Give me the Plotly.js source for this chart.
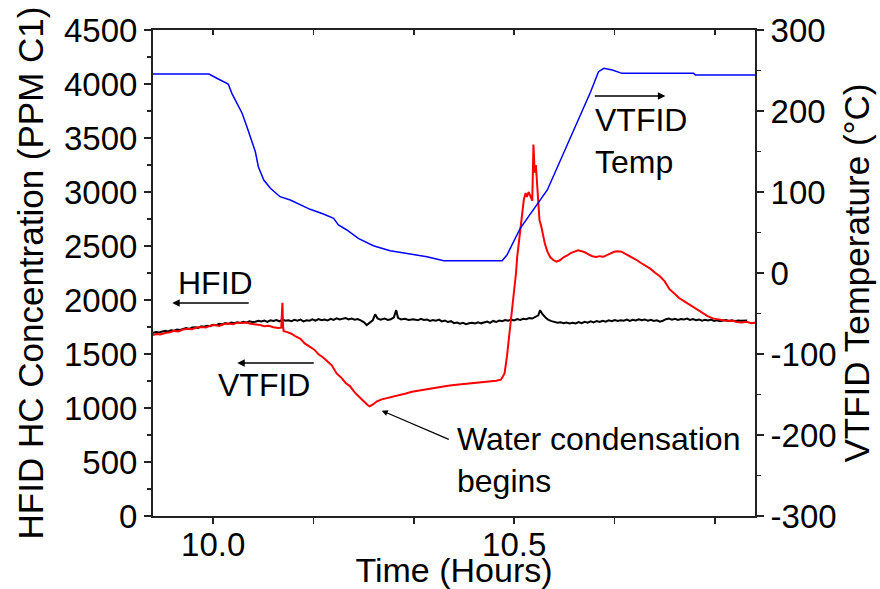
<!DOCTYPE html>
<html>
<head>
<meta charset="utf-8">
<script src="https://cdn.plot.ly/plotly-3.0.1.min.js"></script>
<style>html,body{margin:0;padding:0;background:#fff;}#chart{width:880px;height:589px;}</style>
</head>
<body>
<div id="chart"></div>
<script>
// ---- Data (time in hours) ----
const hfidTime = [9.900,9.905,9.910,9.915,9.920,9.925,9.930,9.935,9.940,9.945,9.950,9.955,9.960,9.965,9.970,9.975,9.980,9.985,9.990,9.995,10.000,10.005,10.010,10.015,10.020,10.025,10.030,10.035,10.040,10.045,10.050,10.055,10.060,10.065,10.070,10.075,10.080,10.085,10.090,10.095,10.100,10.105,10.110,10.115,10.120,10.125,10.130,10.135,10.140,10.145,10.150,10.155,10.160,10.165,10.170,10.175,10.180,10.185,10.190,10.195,10.200,10.205,10.210,10.215,10.220,10.225,10.230,10.235,10.240,10.245,10.250,10.255,10.260,10.265,10.269,10.273,10.278,10.285,10.290,10.295,10.300,10.304,10.307,10.312,10.318,10.325,10.332,10.340,10.345,10.350,10.355,10.360,10.365,10.370,10.375,10.380,10.385,10.390,10.395,10.400,10.405,10.410,10.415,10.420,10.425,10.430,10.435,10.440,10.445,10.450,10.455,10.460,10.465,10.470,10.475,10.480,10.485,10.490,10.495,10.500,10.505,10.510,10.515,10.520,10.525,10.530,10.535,10.540,10.543,10.547,10.552,10.557,10.562,10.567,10.572,10.577,10.582,10.587,10.592,10.597,10.602,10.607,10.612,10.617,10.622,10.627,10.632,10.637,10.642,10.647,10.652,10.657,10.662,10.667,10.672,10.677,10.682,10.687,10.692,10.697,10.702,10.707,10.712,10.717,10.722,10.727,10.732,10.737,10.742,10.747,10.752,10.757,10.762,10.767,10.772,10.777,10.782,10.787,10.792,10.797,10.802,10.807,10.812,10.817,10.822,10.827,10.832,10.837,10.842,10.847,10.852,10.857,10.862,10.867,10.872,10.877,10.882,10.887,10.892,10.897,10.900];
const hfidConc = [1697,1703,1700,1710,1714,1709,1720,1716,1727,1722,1733,1741,1731,1745,1748,1741,1756,1752,1762,1757,1771,1766,1779,1773,1786,1778,1791,1785,1794,1788,1798,1791,1803,1796,1799,1807,1801,1810,1798,1812,1806,1815,1803,1818,1808,1812,1804,1816,1809,1818,1802,1813,1809,1821,1808,1824,1813,1819,1810,1826,1816,1830,1819,1825,1833,1821,1828,1818,1824,1812,1796,1768,1790,1812,1868,1830,1818,1828,1815,1822,1838,1906,1835,1820,1826,1816,1822,1812,1826,1815,1820,1806,1814,1808,1818,1802,1810,1796,1804,1786,1792,1780,1788,1776,1785,1790,1782,1794,1784,1792,1800,1788,1806,1796,1810,1803,1815,1808,1818,1811,1823,1816,1826,1822,1832,1828,1842,1858,1906,1868,1838,1815,1804,1796,1789,1794,1786,1791,1782,1789,1783,1795,1786,1798,1790,1802,1793,1806,1797,1808,1800,1812,1803,1815,1805,1813,1808,1818,1806,1816,1811,1822,1812,1820,1809,1817,1806,1812,1800,1808,1822,1828,1818,1826,1815,1824,1819,1828,1816,1823,1812,1820,1808,1816,1810,1818,1806,1812,1803,1810,1814,1806,1812,1803,1810,1808,1813,1811];

const vtfidTime = [9.900,9.905,9.912,9.920,9.928,9.935,9.942,9.950,9.958,9.965,9.972,9.980,9.988,9.995,10.003,10.010,10.018,10.025,10.033,10.040,10.048,10.055,10.062,10.070,10.078,10.085,10.092,10.100,10.108,10.113,10.115,10.116,10.117,10.122,10.130,10.137,10.145,10.152,10.160,10.168,10.175,10.182,10.190,10.197,10.205,10.212,10.220,10.227,10.235,10.242,10.250,10.257,10.260,10.266,10.272,10.280,10.290,10.300,10.310,10.320,10.330,10.340,10.350,10.360,10.370,10.380,10.390,10.400,10.410,10.420,10.430,10.440,10.450,10.460,10.470,10.478,10.484,10.488,10.492,10.496,10.500,10.503,10.505,10.508,10.511,10.513,10.516,10.519,10.521,10.524,10.527,10.530,10.532,10.534,10.536,10.538,10.540,10.542,10.545,10.548,10.551,10.555,10.560,10.565,10.570,10.576,10.582,10.588,10.594,10.600,10.606,10.612,10.618,10.624,10.630,10.636,10.642,10.648,10.654,10.660,10.666,10.672,10.678,10.684,10.690,10.696,10.702,10.710,10.718,10.726,10.734,10.742,10.750,10.758,10.766,10.774,10.782,10.790,10.798,10.806,10.814,10.822,10.830,10.838,10.846,10.854,10.862,10.870,10.878,10.886,10.894,10.900];
const vtfidConc = [1676,1684,1680,1695,1702,1714,1709,1726,1733,1729,1745,1750,1746,1762,1768,1760,1778,1782,1775,1790,1786,1792,1780,1776,1768,1758,1762,1748,1740,1744,1975,1760,1712,1705,1688,1662,1640,1598,1570,1540,1497,1470,1430,1395,1320,1285,1232,1203,1145,1110,1062,1025,1015,1035,1062,1080,1092,1108,1118,1134,1150,1160,1168,1184,1190,1198,1207,1214,1219,1224,1228,1236,1240,1248,1252,1262,1320,1480,1680,1880,2100,2250,2400,2560,2680,2810,2930,2990,2955,3000,2960,2920,3440,3180,3250,3080,2850,2740,2680,2590,2520,2450,2395,2370,2355,2368,2395,2412,2435,2448,2460,2452,2440,2420,2405,2398,2406,2400,2415,2430,2447,2452,2448,2430,2412,2395,2375,2345,2318,2290,2252,2220,2172,2100,2060,2018,1990,1962,1930,1900,1872,1848,1830,1822,1815,1806,1810,1796,1792,1798,1786,1790];

const tempTime = [9.900,9.993,10.006,10.025,10.031,10.039,10.048,10.056,10.064,10.070,10.075,10.084,10.095,10.111,10.128,10.145,10.161,10.183,10.200,10.208,10.222,10.241,10.266,10.294,10.322,10.355,10.383,10.480,10.488,10.499,10.510,10.555,10.599,10.627,10.640,10.649,10.663,10.679,10.798,10.801,10.900];
const tempC = [245.7,245.7,240.4,233.3,221.8,209.5,197.2,180.6,164.2,149.7,131.2,114.8,104.6,94.2,90.1,84.0,78.6,72.8,67.5,59.3,53.1,42.8,33.7,27.5,24.3,20.1,15.2,15.2,22.2,38.6,55.2,102.5,176.5,223.8,248.5,252.7,250.6,246.5,246.5,244.4,244.4];

const xMajorTicks = [10.0, 10.5];
const xMajorLabels = ['10.0', '10.5'];
const xMinorTicks = [9.8333333, 10.1666667, 10.3333333, 10.6666667, 10.8333333];
const xTopTicks = [10.0, 10.1666667, 10.3333333, 10.5, 10.6666667, 10.8333333];
const tempTickVals = [-300, -200, -100, 0, 100, 200, 300];
const tempTickLabels = ['-300', '-200', '-100', '0', '100', '200', '300'];

const FONT = 'Liberation Sans, Arial, sans-serif';
const AX = '#222';
const TICK_SIZE = 33;
const TITLE_SIZE = 35;
const NOTE_SIZE = 32;

const traces = [
  {x: hfidTime, y: hfidConc, type: 'scatter', mode: 'lines', name: 'HFID',
   line: {color: '#000000', width: 2}, xaxis: 'x', yaxis: 'y'},
  {x: vtfidTime, y: vtfidConc, type: 'scatter', mode: 'lines', name: 'VTFID',
   line: {color: '#ff0000', width: 2}, xaxis: 'x', yaxis: 'y'},
  {x: tempTime, y: tempC, type: 'scatter', mode: 'lines', name: 'VTFID Temp',
   line: {color: '#0000ff', width: 1.5}, xaxis: 'x2', yaxis: 'y2'}
];

const arrowStyle = {showarrow: true, arrowhead: 2, arrowsize: 1, arrowwidth: 1.5, arrowcolor: '#000',
  axref: 'x', ayref: 'y', xref: 'x', yref: 'y', text: '', standoff: 0, startstandoff: 0};

const noteFont = {size: NOTE_SIZE, family: FONT, color: '#000'};

const layout = {
  width: 880, height: 589,
  margin: {l: 153, r: 125, t: 30, b: 73},
  paper_bgcolor: '#fff', plot_bgcolor: '#fff',
  showlegend: false,
  font: {family: FONT, size: TICK_SIZE, color: '#000'},
  xaxis: {
    range: [9.9, 10.9], tickmode: 'array', tickvals: xMajorTicks, ticktext: xMajorLabels,
    ticks: 'outside', ticklen: 6, tickwidth: 1.5, tickcolor: AX, ticklabelstandoff: -8,
    showline: true, linecolor: AX, linewidth: 2, showgrid: false, zeroline: false,
    tickfont: {size: TICK_SIZE, family: FONT, color: '#000'},
    minor: {tickvals: xMinorTicks, ticks: 'outside', ticklen: 6, tickwidth: 1.5, tickcolor: AX, showgrid: false},
    title: {text: 'Time (Hours)', font: {size: 34, family: FONT, color: '#000'}, standoff: 9},
    automargin: false
  },
  xaxis2: {
    range: [9.9, 10.9], overlaying: 'x', side: 'top', anchor: 'y2',
    tickmode: 'array', tickvals: xTopTicks, ticks: 'inside', ticklen: 5, tickwidth: 1.5, tickcolor: AX,
    showticklabels: false, showline: true, linecolor: AX, linewidth: 2, showgrid: false, zeroline: false,
    automargin: false
  },
  yaxis: {
    range: [0, 4500], dtick: 500, tick0: 0,
    ticks: 'outside', ticklen: 7, tickwidth: 1.5, tickcolor: AX,
    showline: true, linecolor: AX, linewidth: 2, showgrid: false, zeroline: false,
    tickfont: {size: TICK_SIZE, family: FONT, color: '#000'},
    minor: {dtick: 250, ticks: 'outside', ticklen: 4, tickwidth: 1.5, tickcolor: AX, showgrid: false},
    title: {text: 'HFID HC Concentration (PPM C1)', font: {size: TITLE_SIZE, family: FONT, color: '#000'}, standoff: 10},
    automargin: false
  },
  yaxis2: {
    range: [-300, 300], tickmode: 'array', tickvals: tempTickVals, ticktext: tempTickLabels,
    overlaying: 'y', side: 'right', anchor: 'x2',
    ticks: 'outside', ticklen: 7, tickwidth: 1.5, tickcolor: AX,
    showline: true, linecolor: AX, linewidth: 2, showgrid: false, zeroline: false,
    tickfont: {size: TICK_SIZE, family: FONT, color: '#000'},
    minor: {dtick: 50, ticks: 'outside', ticklen: 4, tickwidth: 1.5, tickcolor: AX, showgrid: false},
    title: {text: 'VTFID Temperature (°C)', font: {size: TITLE_SIZE, family: FONT, color: '#000'}, standoff: 8},
    automargin: false
  },
  annotations: [
    {text: 'HFID', x: 10.0033, y: 2157, xref: 'x', yref: 'y', showarrow: false,
     xanchor: 'center', yanchor: 'middle', font: noteFont},
    Object.assign({}, arrowStyle, {x: 9.9319, y: 1972, ax: 10.0615, ay: 1972}),
    {text: 'VTFID', x: 10.0839, y: 1213, xref: 'x', yref: 'y', showarrow: false,
     xanchor: 'center', yanchor: 'middle', font: noteFont},
    Object.assign({}, arrowStyle, {x: 10.0399, y: 1417, ax: 10.1695, ay: 1417}),
    {text: 'VTFID<br>Temp', x: 10.6314, y: 3472, xref: 'x', yref: 'y', showarrow: false,
     xanchor: 'left', yanchor: 'middle', align: 'left', font: noteFont},
    Object.assign({}, arrowStyle, {x: 10.7511, y: 3889, ax: 10.6314, ay: 3889}),
    {text: 'Water condensation<br>begins', x: 10.4021, y: 518, xref: 'x', yref: 'y', showarrow: false,
     xanchor: 'left', yanchor: 'middle', align: 'left', font: noteFont},
    Object.assign({}, arrowStyle, {x: 10.280, y: 975, ax: 10.3938, ay: 704, arrowwidth: 1.2})
  ]
};

Plotly.newPlot('chart', traces, layout, {displayModeBar: false, staticPlot: true});
</script>
</body>
</html>
